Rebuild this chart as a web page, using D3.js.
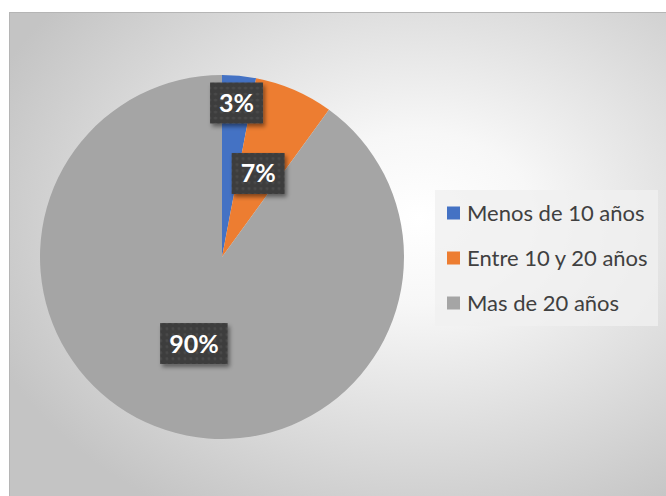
<!DOCTYPE html>
<html>
<head>
<meta charset="utf-8">
<script src="https://cdn.jsdelivr.net/npm/d3@7"></script>
<style>
  html, body { margin: 0; padding: 0; background: #fff; }
  svg { display: block; }
</style>
</head>
<body>
<svg id="chart"></svg>
<script>
// data
const categories = ["Menos de 10 años", "Entre 10 y 20 años", "Mas de 20 años"];
const values = [3, 7, 90];
const labels = ["3%", "7%", "90%"];
const colors = ["#4472C4", "#ED7D31", "#A5A5A5"];
const labelRadius = [0.85, 0.5, 0.5]; // fraction of radius for data labels

const width = 666, height = 496;
const svg = d3.select("#chart").attr("width", width).attr("height", height);
const defs = svg.append("defs");

// background gradient
const bg = defs.append("radialGradient")
  .attr("id", "bg")
  .attr("cx", "0.62").attr("cy", "0.42").attr("r", "0.7");
bg.append("stop").attr("offset", "0").attr("stop-color", "#ffffff");
bg.append("stop").attr("offset", "0.25").attr("stop-color", "#f7f7f7");
bg.append("stop").attr("offset", "1").attr("stop-color", "#c4c4c4");

// dotted texture for label boxes
const pat = defs.append("pattern")
  .attr("id", "dots")
  .attr("width", 6).attr("height", 6)
  .attr("patternUnits", "userSpaceOnUse");
pat.append("rect").attr("width", 6).attr("height", 6).attr("fill", "#3c3c3c");
pat.append("circle").attr("cx", 3).attr("cy", 3).attr("r", 1.6).attr("fill", "#4a4a4a");

const shadow = defs.append("filter").attr("id", "shadow")
  .attr("x", "-30%").attr("y", "-30%").attr("width", "160%").attr("height", "160%");
shadow.append("feDropShadow")
  .attr("dx", 2).attr("dy", 3).attr("stdDeviation", 2)
  .attr("flood-color", "#000").attr("flood-opacity", 0.45);

// chart area
svg.append("rect")
  .attr("x", 9.5).attr("y", 12.5)
  .attr("width", 660).attr("height", 490)
  .attr("fill", "url(#bg)")
  .attr("stroke", "#b5b5b5");

// pie
const cx = 222, cy = 257, r = 182;
const pie = d3.pie().sort(null).value(d => d);
const arcs = pie(values);
const arc = d3.arc().innerRadius(0).outerRadius(r);

const g = svg.append("g").attr("transform", `translate(${cx},${cy})`);
g.selectAll("path.slice")
  .data(arcs)
  .enter()
  .append("path")
  .attr("class", "slice")
  .attr("d", arc)
  .attr("fill", (d, i) => colors[i]);

// data labels
const lbl = g.selectAll("g.lbl")
  .data(arcs)
  .enter()
  .append("g")
  .attr("class", "lbl")
  .attr("transform", (d, i) => {
    const rr = r * labelRadius[i];
    const c = d3.arc().innerRadius(rr).outerRadius(rr).centroid(d);
    return `translate(${c[0]},${c[1]})`;
  });

lbl.each(function(d, i) {
  const gg = d3.select(this);
  const box = gg.append("rect").attr("fill", "url(#dots)").attr("filter", "url(#shadow)");
  const t = gg.append("text")
    .attr("text-anchor", "middle")
    .attr("dy", "0.36em")
    .attr("fill", "#ffffff")
    .attr("font-family", "Lato, 'Open Sans', sans-serif")
    .attr("font-weight", "bold")
    .attr("font-size", "25px")
    .text(labels[i]);
  const bb = t.node().getBBox();
  const w = bb.width + 18, h = 41;
  box.attr("x", -w / 2).attr("y", -h / 2).attr("width", w).attr("height", h);
});

// legend
const legend = svg.append("g").attr("transform", "translate(435,190)");
legend.append("rect")
  .attr("width", 223).attr("height", 136)
  .attr("fill", "#f0f0f0").attr("fill-opacity", 0.8);

const item = legend.selectAll("g.item")
  .data(categories)
  .enter()
  .append("g")
  .attr("class", "item")
  .attr("transform", (d, i) => `translate(12,${23 + i * 45})`);

item.append("rect")
  .attr("x", 0).attr("y", -6.5)
  .attr("width", 13).attr("height", 13)
  .attr("fill", (d, i) => colors[i]);

item.append("text")
  .attr("x", 20)
  .attr("dy", "0.35em")
  .attr("fill", "#404040")
  .attr("font-family", "Lato, 'Open Sans', sans-serif")
  .attr("font-size", "22px")
  .text(d => d);
</script>
</body>
</html>
